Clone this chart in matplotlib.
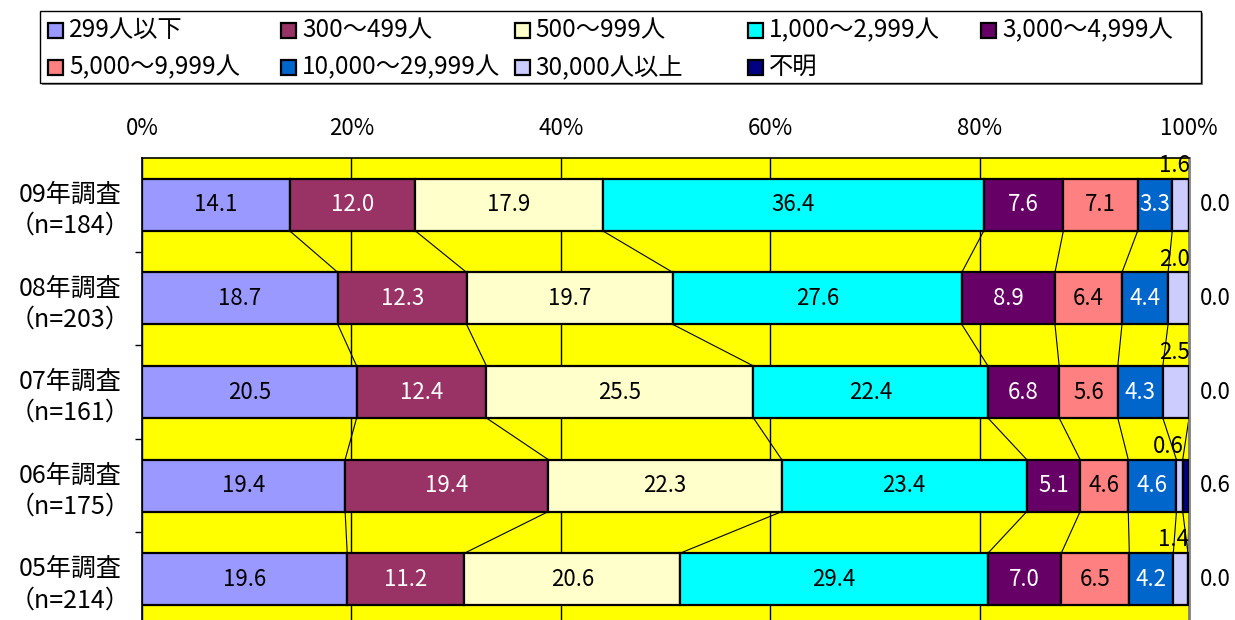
import numpy as np
import matplotlib.pyplot as plt
from matplotlib.patches import Rectangle

plt.rcParams['font.family'] = ['Noto Sans CJK JP', 'DejaVu Sans']

# 調査年ごとの従業員規模構成比（%）
categories = ['09年調査\n（n=184）', '08年調査\n（n=203）', '07年調査\n（n=161）',
              '06年調査\n（n=175）', '05年調査\n（n=214）']
series_names = ['299人以下', '300～499人', '500～999人', '1,000～2,999人', '3,000～4,999人',
                '5,000～9,999人', '10,000～29,999人', '30,000人以上', '不明']
values = np.array([
    [14.1, 12.0, 17.9, 36.4, 7.6, 7.1, 3.3, 1.6, 0.0],
    [18.7, 12.3, 19.7, 27.6, 8.9, 6.4, 4.4, 2.0, 0.0],
    [20.5, 12.4, 25.5, 22.4, 6.8, 5.6, 4.3, 2.5, 0.0],
    [19.4, 19.4, 22.3, 23.4, 5.1, 4.6, 4.6, 0.6, 0.6],
    [19.6, 11.2, 20.6, 29.4, 7.0, 6.5, 4.2, 1.4, 0.0],
])
colors = ['#9999FF', '#993366', '#FFFFCC', '#00FFFF', '#660066',
          '#FF8080', '#0066CC', '#CCCCFF', '#000080']
label_colors = ['black', 'white', 'black', 'black', 'white',
                'black', 'white', 'black', 'black']
xticks = [0, 20, 40, 60, 80, 100]

W, H = 1235, 620
fig = plt.figure(figsize=(W / 100, H / 100), dpi=100)
ax = fig.add_axes([142 / W, 1 - 626 / H, (1189 - 142) / W, (626 - 158) / H])
ax.set_facecolor('#FFFF00')

bar_h = 0.556
y = np.arange(len(categories))
left = np.zeros(len(categories))
for j, name in enumerate(series_names):
    ax.barh(y, values[:, j], left=left, height=bar_h, color=colors[j],
            edgecolor='black', linewidth=1.6, zorder=3)
    for i in range(len(categories)):
        v = values[i, j]
        if j == len(series_names) - 1:
            # 不明 は枠の右外に表示
            ax.annotate(f'{v:.1f}', xy=(100, y[i]), xytext=(19, 0),
                        textcoords='offset points', ha='center', va='center',
                        fontsize=16, annotation_clip=False)
        elif j == len(series_names) - 2:
            # 30,000人以上 は棒の上に表示
            ax.text(left[i] + v + 0.1, y[i] - bar_h / 2 - 0.02, f'{v:.1f}',
                    ha='right', va='bottom', fontsize=16, zorder=5)
        else:
            ax.text(left[i] + v / 2, y[i], f'{v:.1f}', ha='center', va='center',
                    fontsize=16, color=label_colors[j], zorder=5)
    left = left + values[:, j]

# 区分線（系列線）
cum = np.cumsum(values, axis=1)
for i in range(len(categories) - 1):
    for j in range(len(series_names)):
        ax.plot([cum[i, j], cum[i + 1, j]],
                [y[i] + bar_h / 2, y[i + 1] - bar_h / 2],
                color='black', linewidth=0.8, zorder=2)

ax.set_xlim(0, 100)
ax.set_ylim(len(categories) - 0.5, -0.5)
ax.xaxis.tick_top()
ax.set_xticks(xticks)
ax.set_xticklabels([f'{t}%' for t in xticks], fontsize=16)
ax.tick_params(axis='x', length=0, pad=13)
ax.grid(axis='x', color='black', linewidth=1)
ax.set_axisbelow(True)

ax.set_yticks(y)
ax.set_yticklabels(categories, fontsize=18, ha='center', linespacing=1.25)
ax.tick_params(axis='y', which='major', length=0, pad=52)
ax.set_yticks(y[:-1] + 0.5, minor=True)
ax.tick_params(axis='y', which='minor', length=5, width=1, direction='out')

for s in ['left', 'top']:
    ax.spines[s].set_color('black')
    ax.spines[s].set_linewidth(1.2)
ax.spines['right'].set_color('#808080')
ax.spines['right'].set_linewidth(2)
ax.spines['bottom'].set_visible(False)

# 凡例（5列×2行、横方向に並べる）
box_l, box_t, box_r, box_b = 40, 11, 1201, 83
fig.patches.append(Rectangle(((box_l + 2) / W, 1 - (box_b + 2) / H),
                             (box_r - box_l) / W, (box_b - box_t) / H,
                             transform=fig.transFigure, facecolor='#808080',
                             edgecolor='none', zorder=0))
fig.patches.append(Rectangle((box_l / W, 1 - box_b / H),
                             (box_r - box_l) / W, (box_b - box_t) / H,
                             transform=fig.transFigure, facecolor='white',
                             edgecolor='black', linewidth=1, zorder=1))
col_x = [48 + 233.3 * c for c in range(5)]
row_y = [30, 67]
sq = 15
for k, name in enumerate(series_names):
    r, c = divmod(k, 5)
    x0, yc = col_x[c], row_y[r]
    fig.patches.append(Rectangle((x0 / W, 1 - (yc + sq / 2) / H), sq / W, sq / H,
                                 transform=fig.transFigure, facecolor=colors[k],
                                 edgecolor='black', linewidth=1.6, zorder=2))
    fig.text((x0 + sq + 6) / W, 1 - yc / H, name, ha='left', va='center',
             fontsize=17.5, zorder=3)

fig.savefig('out.png', dpi=100)
